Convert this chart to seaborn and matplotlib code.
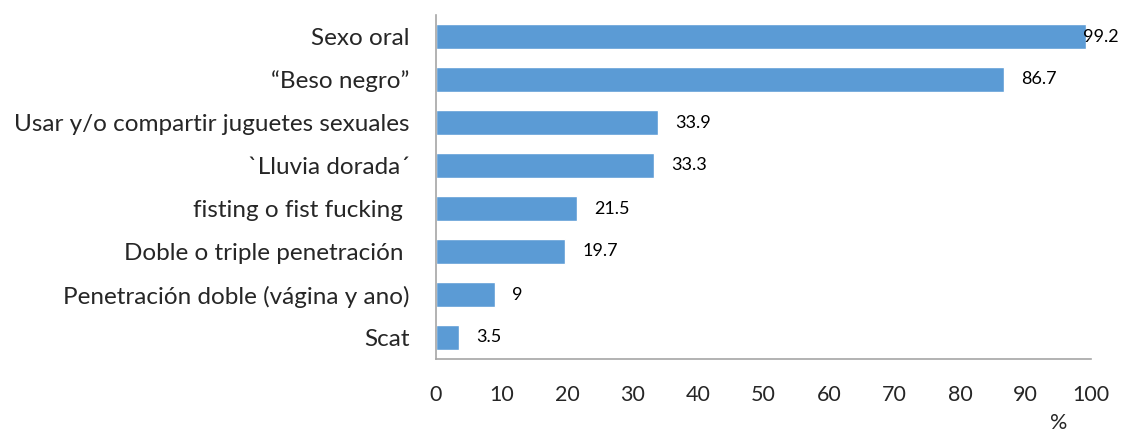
import matplotlib
matplotlib.use("Agg")
import matplotlib.pyplot as plt
import seaborn as sns
import pandas as pd

categorias = [
    "Sexo oral",
    "\u201cBeso negro\u201d",
    "Usar y/o compartir juguetes sexuales",
    "`Lluvia dorada\u00b4",
    "fisting o fist fucking ",
    "Doble o triple penetración ",
    "Penetración doble (vágina y ano)",
    "Scat",
]
porcentajes = [99.2, 86.7, 33.9, 33.3, 21.5, 19.7, 9, 3.5]
etiquetas = ["99.2", "86.7", "33.9", "33.3", "21.5", "19.7", "9", "3.5"]
xticks = [0, 10, 20, 30, 40, 50, 60, 70, 80, 90, 100]

sns.set_style("white")
plt.rcParams["font.family"] = ["Lato", "DejaVu Sans"]

df = pd.DataFrame({"cat": categorias, "pct": porcentajes})

fig = plt.figure(figsize=(11.23, 4.32), dpi=100)
ax = fig.add_axes([436 / 1123, 1 - 359 / 432, (1091 - 436) / 1123, (359 - 15) / 432])
sns.barplot(data=df, x="pct", y="cat", orient="h", color="#5B9BD5",
            width=0.56, saturation=1, ax=ax)

ax.set_xlim(0, 100)
ax.set_ylim(7.5, -0.5)
ax.set_xticks(xticks)
ax.set_xlabel("")
ax.set_ylabel("")
ax.tick_params(axis="x", length=0, pad=19, labelsize=15.5)
ax.tick_params(axis="y", length=0, pad=19, labelsize=17.5)

for s in ["top", "right"]:
    ax.spines[s].set_visible(False)
for s in ["left", "bottom"]:
    ax.spines[s].set_color("#A6A6A6")
    ax.spines[s].set_linewidth(1.2)

# etiquetas de valor
for i, (v, t) in enumerate(zip(porcentajes, etiquetas)):
    ax.text(min(v + 2.6, 98.8), i, t, ha="left", va="center", fontsize=13, color="#000000")

ax.text(95, -0.185, "%", transform=ax.get_xaxis_transform(), ha="center", va="center", fontsize=15.5)

fig.savefig("out.png", dpi=100)
